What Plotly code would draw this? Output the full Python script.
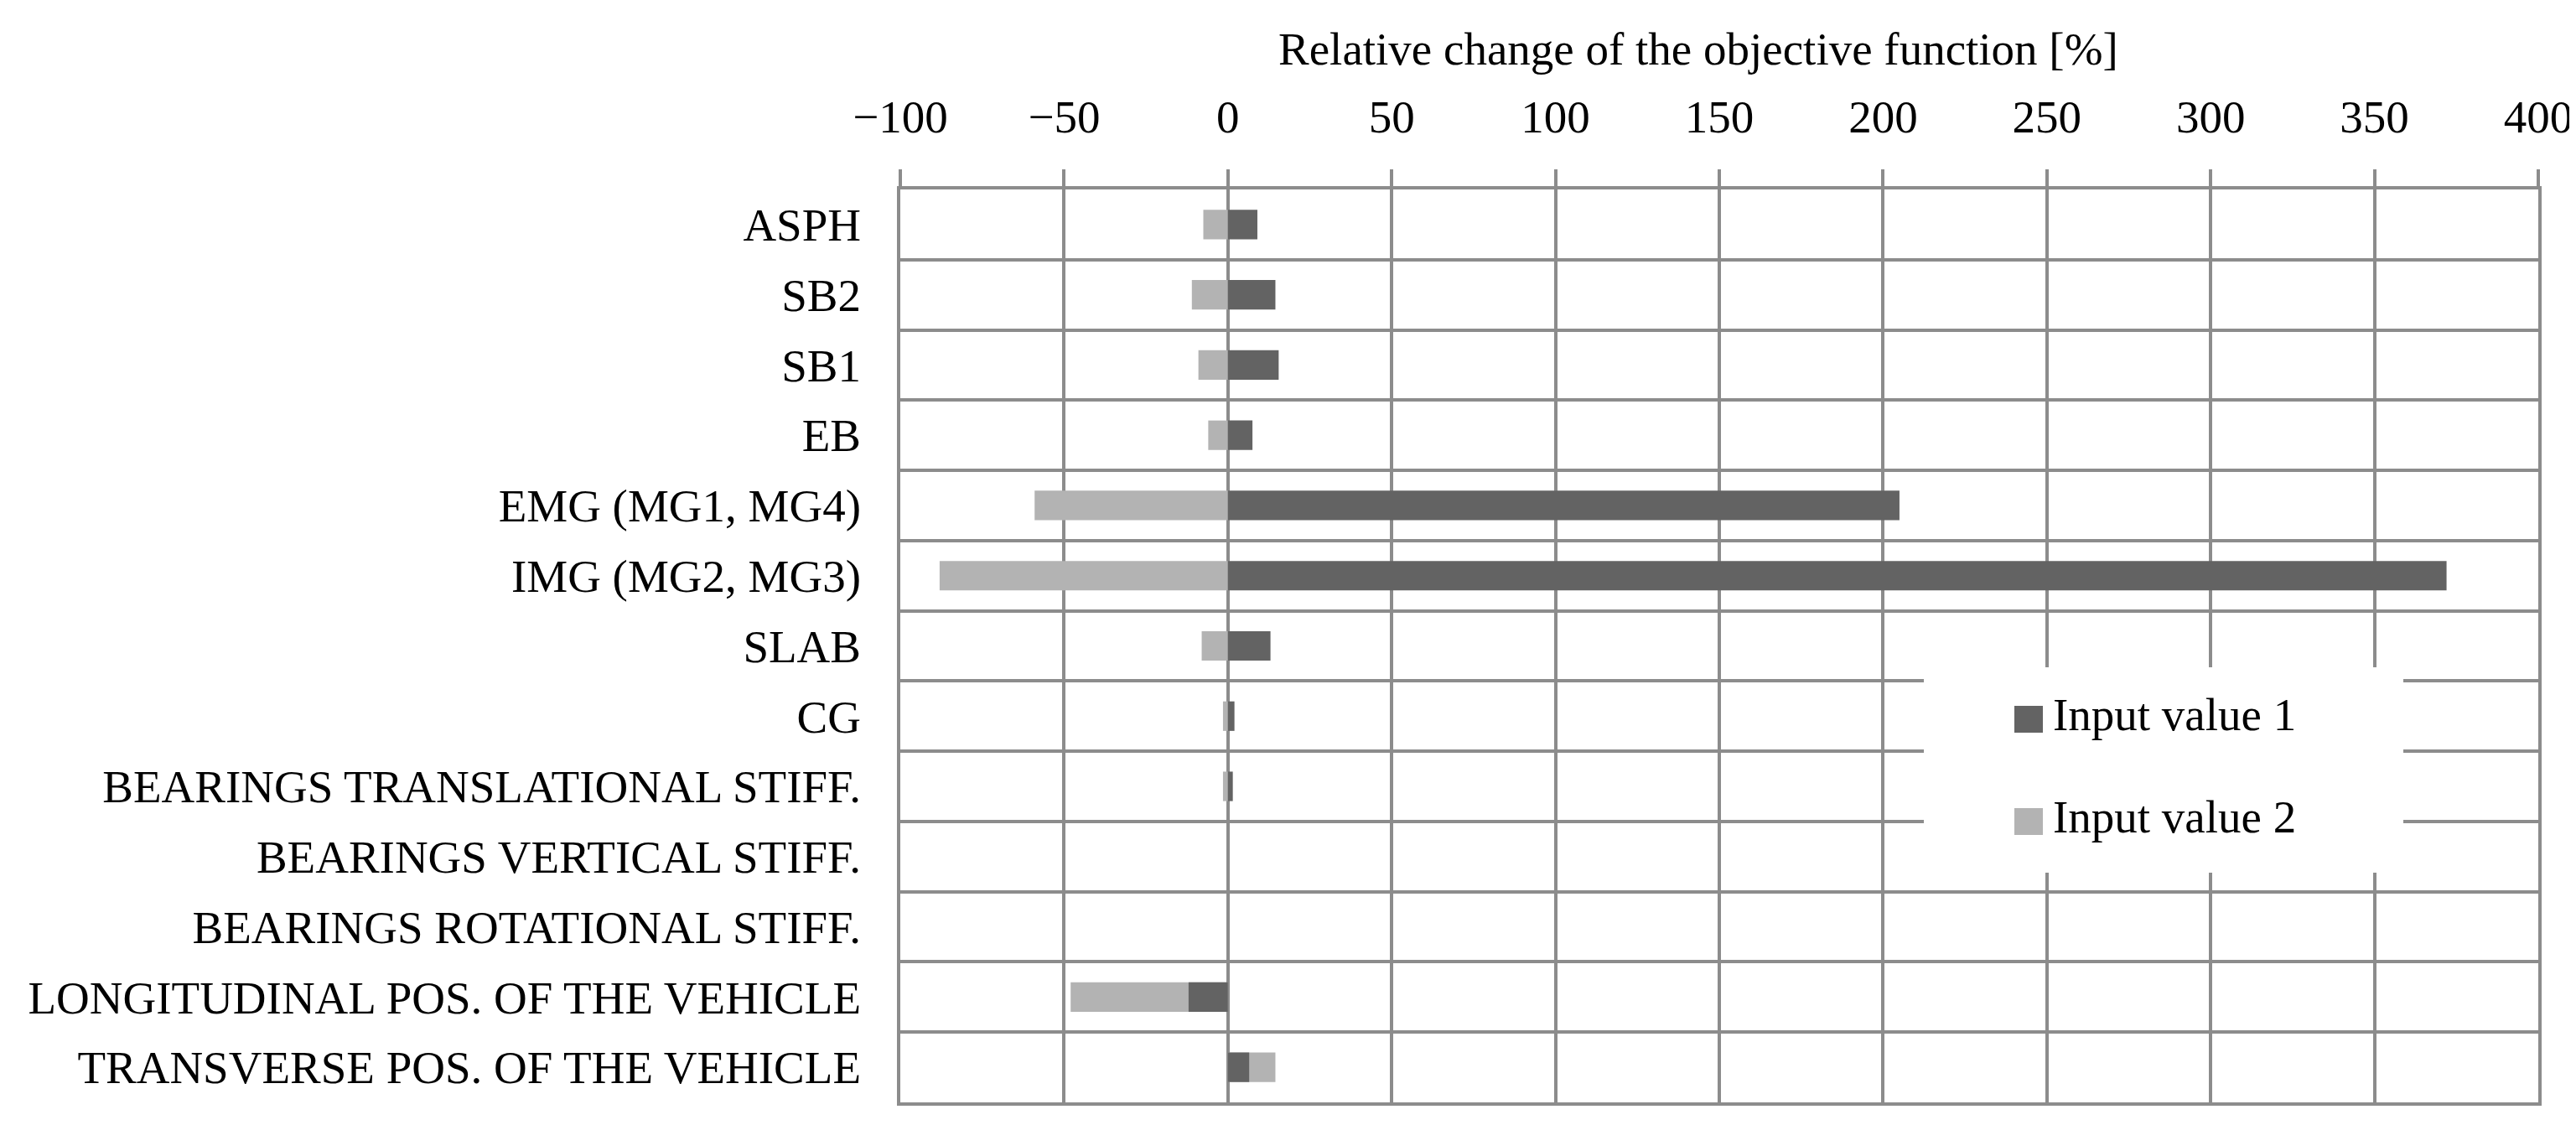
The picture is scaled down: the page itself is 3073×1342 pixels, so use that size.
import plotly.graph_objects as go

categories = [
    "ASPH", "SB2", "SB1", "EB", "EMG (MG1, MG4)", "IMG (MG2, MG3)", "SLAB", "CG",
    "BEARINGS TRANSLATIONAL STIFF.", "BEARINGS VERTICAL STIFF.",
    "BEARINGS ROTATIONAL STIFF.", "LONGITUDINAL POS. OF THE VEHICLE",
    "TRANSVERSE POS. OF THE VEHICLE",
]
input_value_1 = [9, 14.5, 15.5, 7.5, 205, 372, 13, 2, 1.5, 0, 0, -12, 6.5]
input_value_2 = [-7.5, -11, -9, -6, -59, -88, -8, -1.5, -1.5, 0, 0, -48, 14.5]
x_ticks = [-100, -50, 0, 50, 100, 150, 200, 250, 300, 350, 400]
series_names = ["Input value 1", "Input value 2"]
series_colors = ["#636363", "#b3b3b3"]

W, H = 3073, 1342
L, R, T, B = 1066, 3020, 218, 1307
FONT = "Liberation Serif, Times New Roman, serif"
GRID = "#8c8c8c"

def px(xp):
    return (xp - L) / (R - L)

def py(yp):
    return (B - yp) / (B - T)

fig = go.Figure()
fig.add_trace(go.Bar(
    y=categories, x=input_value_2, orientation="h", name=series_names[1],
    marker=dict(color=series_colors[1], line=dict(width=0)), showlegend=False,
))
fig.add_trace(go.Bar(
    y=categories, x=input_value_1, orientation="h", name=series_names[0],
    marker=dict(color=series_colors[0], line=dict(width=0)), showlegend=False,
))

# legend box (white background), swatches and labels
shapes = [dict(
    type="rect", xref="paper", yref="paper",
    x0=px(2287), x1=px(2859), y0=py(1033), y1=py(788),
    fillcolor="white", line=dict(width=0), layer="above",
)]
annotations = []
swatch_centers = [850, 972]
text_centers = [845, 966]
for name, color, yc, yt in zip(series_names, series_colors, swatch_centers, text_centers):
    shapes.append(dict(
        type="rect", xref="paper", yref="paper",
        x0=px(2395), x1=px(2429), y0=py(yc + 16), y1=py(yc - 16),
        fillcolor=color, line=dict(width=0), layer="above",
    ))
    annotations.append(dict(
        text=name, xref="paper", yref="paper", x=px(2439), y=py(yt),
        xanchor="left", yanchor="middle", showarrow=False,
        font=dict(family=FONT, size=55, color="black"),
    ))

annotations.append(dict(
    text="Relative change of the objective function [%]",
    xref="paper", yref="paper", x=px(2018), y=py(50),
    xanchor="center", yanchor="middle", showarrow=False,
    font=dict(family=FONT, size=55, color="black"),
))

fig.update_layout(
    width=W, height=H,
    margin=dict(l=L, r=W - R, t=T, b=H - B, pad=0),
    paper_bgcolor="white", plot_bgcolor="white",
    barmode="overlay", bargap=0.58,
    font=dict(family=FONT, size=55, color="black"),
    showlegend=False,
    shapes=shapes, annotations=annotations,
)

fig.update_xaxes(
    side="top", range=[-100, 400], tickvals=x_ticks,
    showgrid=True, gridcolor=GRID, gridwidth=4,
    zeroline=False,
    showline=True, linecolor=GRID, linewidth=4, mirror=True,
    ticks="outside", ticklen=20, tickwidth=4, tickcolor=GRID,
    ticklabelstandoff=22,
    tickfont=dict(family=FONT, size=55, color="black"),
)
fig.update_yaxes(
    categoryorder="array", categoryarray=categories,
    autorange="reversed", tickson="boundaries",
    showgrid=True, gridcolor=GRID, gridwidth=4,
    showline=True, linecolor=GRID, linewidth=4, mirror=True,
    ticks="", ticklabelstandoff=32,
    tickfont=dict(family=FONT, size=55, color="black"),
)

fig.write_html("out.html")
